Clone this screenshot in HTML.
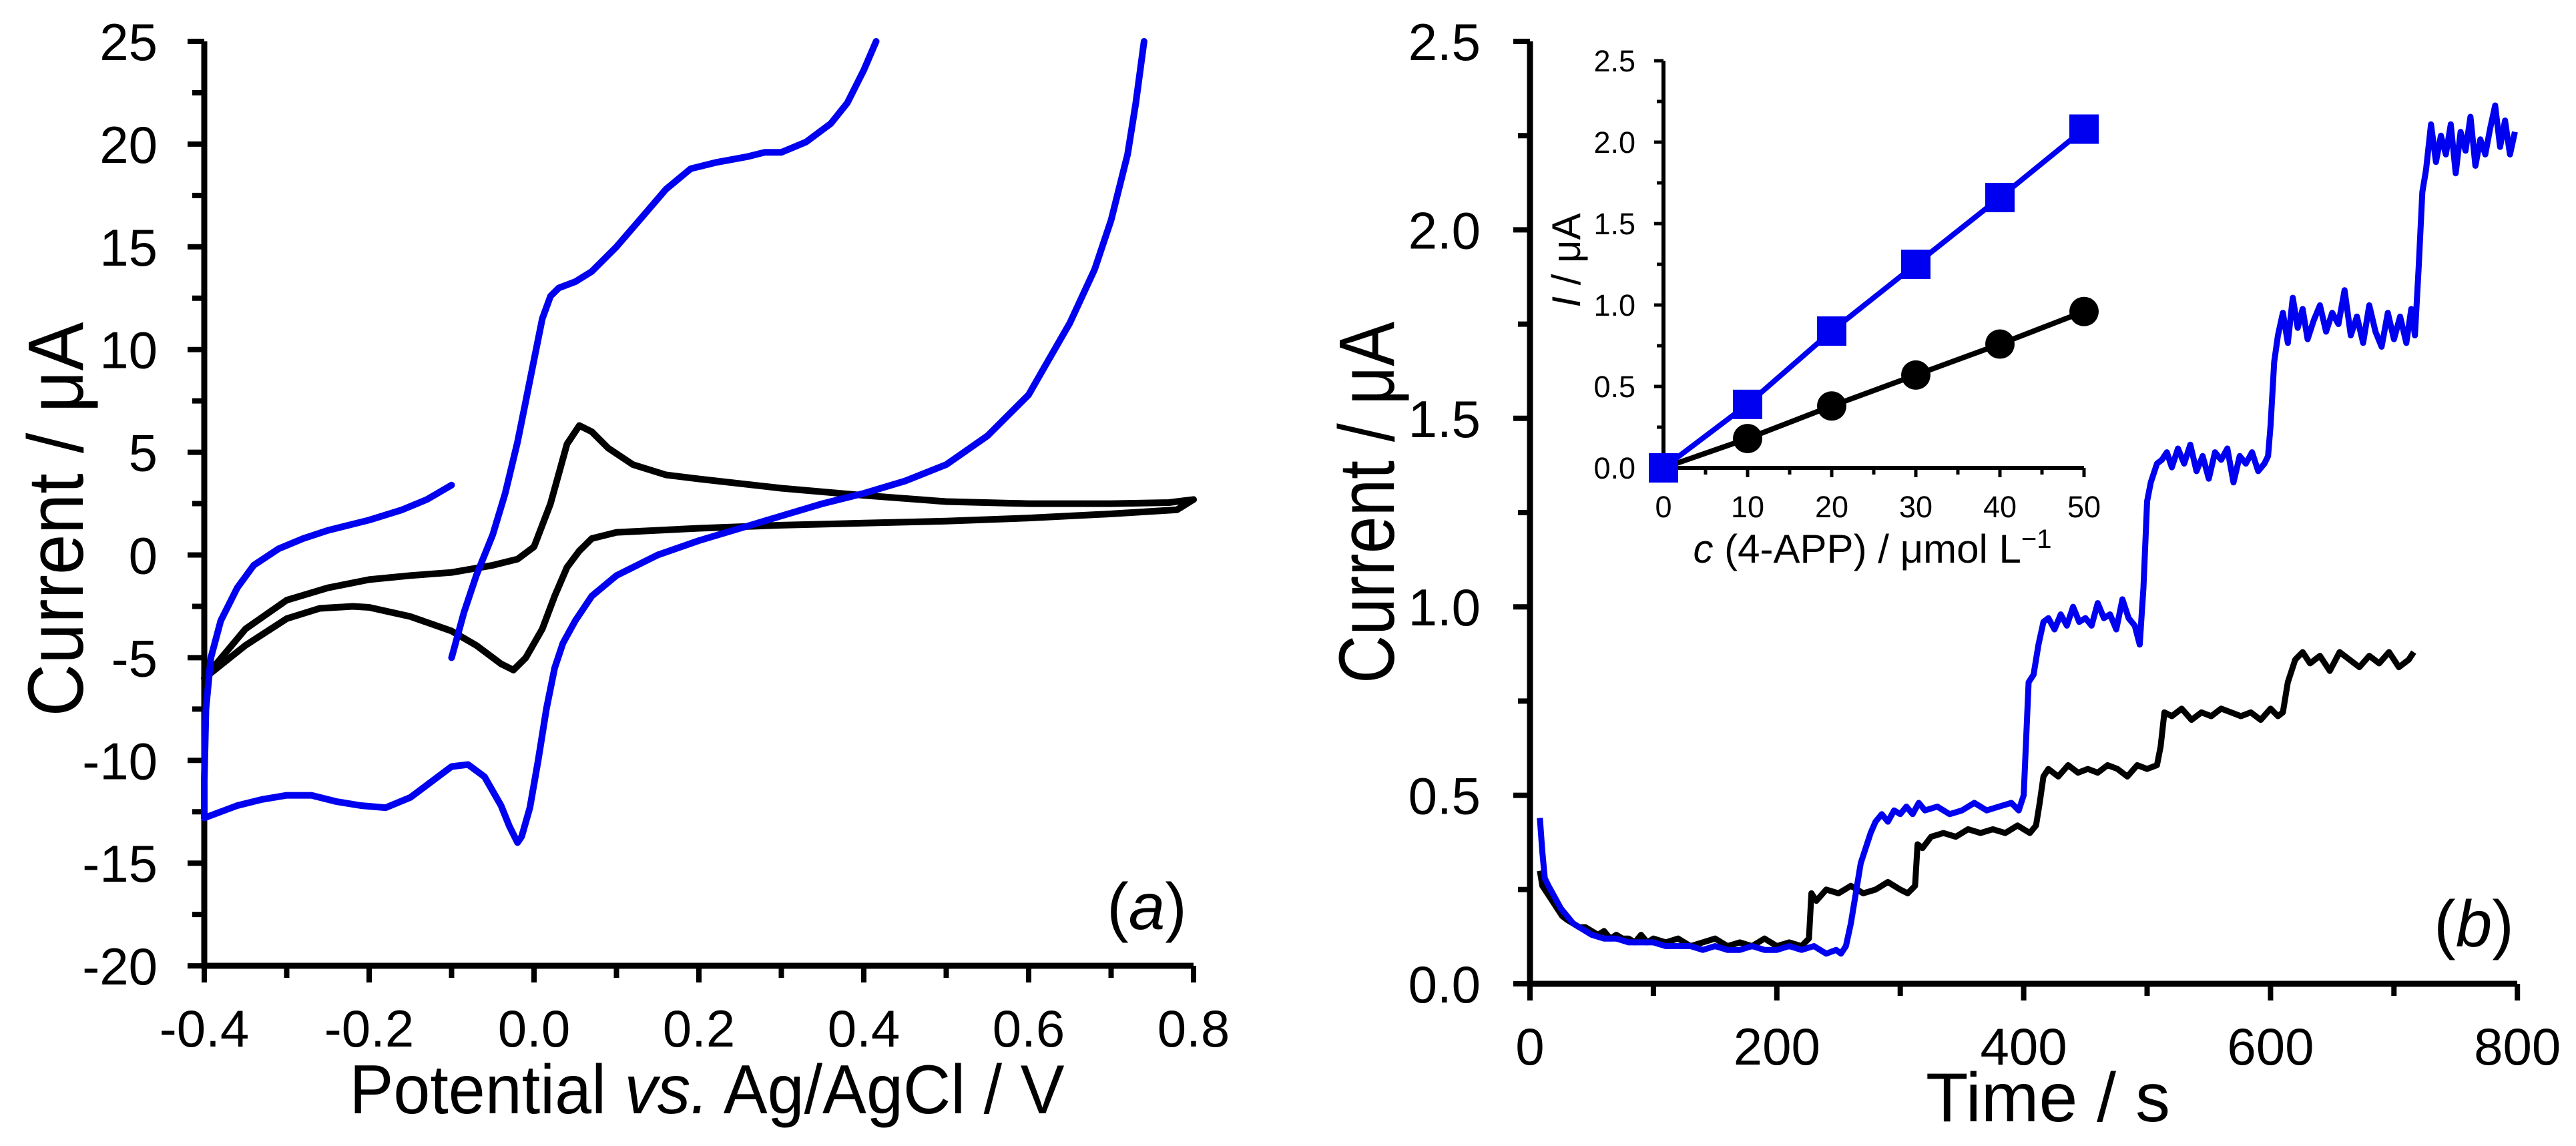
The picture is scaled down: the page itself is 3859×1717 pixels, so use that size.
<!DOCTYPE html>
<html><head><meta charset="utf-8"><style>
html,body{margin:0;padding:0;background:#fff;}
svg{display:block;}
text{font-family:"Liberation Sans",Arial,sans-serif;fill:#000;}
</style></head><body>
<svg id="fig" width="3859" height="1717" viewBox="0 0 3859 1717" xmlns="http://www.w3.org/2000/svg">
<g id="panelA"></g>
<g id="panelB"></g>
<g id="inset"></g>
</svg>
<script>
// ---- Panel (a) data: cyclic voltammograms ----
const cvBlackE = [-0.4,-0.35,-0.3,-0.25,-0.2,-0.15,-0.1,-0.05,-0.02,0.0,0.02,0.04,0.055,0.07,0.09,0.12,0.16,0.2,0.3,0.4,0.5,0.6,0.7,0.77,0.8,0.78,0.7,0.6,0.5,0.4,0.3,0.2,0.1,0.07,0.055,0.04,0.025,0.01,-0.01,-0.025,-0.04,-0.07,-0.1,-0.15,-0.2,-0.22,-0.26,-0.3,-0.35,-0.4];
const cvBlackI = [-6.0,-3.6,-2.2,-1.6,-1.2,-1.0,-0.85,-0.5,-0.2,0.4,2.5,5.4,6.3,6.0,5.2,4.4,3.9,3.7,3.25,2.9,2.6,2.5,2.5,2.55,2.7,2.2,2.0,1.8,1.65,1.55,1.45,1.3,1.1,0.8,0.2,-0.6,-2.0,-3.6,-5.0,-5.6,-5.3,-4.4,-3.7,-3.0,-2.55,-2.5,-2.6,-3.1,-4.4,-6.0];
const cvBlue1E = [-0.1,-0.085,-0.07,-0.05,-0.035,-0.02,-0.01,0.0,0.01,0.02,0.03,0.05,0.07,0.1,0.13,0.16,0.19,0.22,0.26,0.28,0.3,0.33,0.36,0.38,0.4,0.415];
const cvBlue1I = [-5.0,-2.8,-1.0,1.0,3.0,5.5,7.5,9.5,11.5,12.6,13.0,13.3,13.8,15.0,16.4,17.8,18.8,19.1,19.4,19.6,19.6,20.1,21.0,22.0,23.6,25.0];
const cvBlue2E = [0.74,0.73,0.72,0.7,0.68,0.65,0.62,0.6,0.55,0.5,0.45,0.4,0.35,0.3,0.25,0.2,0.15,0.1,0.07,0.05,0.035,0.025,0.015,0.005,-0.005,-0.015,-0.02,-0.03,-0.04,-0.06,-0.08,-0.1,-0.12,-0.15,-0.18,-0.21,-0.24,-0.27,-0.3,-0.33,-0.36,-0.4,-0.4,-0.398,-0.392,-0.38,-0.36,-0.34,-0.31,-0.28,-0.25,-0.2,-0.16,-0.13,-0.1];
const cvBlue2I = [25.0,22.0,19.5,16.3,13.9,11.3,9.2,7.8,5.8,4.4,3.6,3.0,2.5,1.9,1.3,0.7,0.0,-1.0,-2.0,-3.2,-4.3,-5.5,-7.5,-10.0,-12.3,-13.7,-14.0,-13.2,-12.2,-10.8,-10.2,-10.3,-10.9,-11.8,-12.3,-12.2,-12.0,-11.7,-11.7,-11.9,-12.2,-12.8,-11.0,-7.5,-5.0,-3.2,-1.6,-0.5,0.3,0.8,1.2,1.7,2.2,2.7,3.4];
const aYTicks = [25,20,15,10,5,0,-5,-10,-15,-20];
const aXTicks = ["-0.4","-0.2","0.0","0.2","0.4","0.6","0.8"];

// ---- Panel (b) data: amperometric current vs time ----
const ampBlackT = [8,10,14,18,22,26,30,35,40,45,50,55,60,65,70,75,80,85,90,95,100,110,120,130,140,150,160,170,180,190,200,210,220,226,228,232,240,250,260,270,280,290,300,306,312,314,318,325,335,345,355,365,375,385,395,405,410,413,416,420,428,436,444,452,460,468,476,484,492,500,508,511,514,520,528,536,544,552,560,568,576,584,592,600,606,610,614,620,626,632,640,648,656,664,672,680,688,696,704,712,716];
const ampBlackV = [0.30,0.26,0.24,0.22,0.20,0.18,0.17,0.16,0.15,0.15,0.14,0.13,0.14,0.12,0.13,0.12,0.12,0.11,0.13,0.11,0.12,0.11,0.12,0.10,0.11,0.12,0.10,0.11,0.10,0.12,0.10,0.11,0.10,0.12,0.24,0.22,0.25,0.24,0.26,0.24,0.25,0.27,0.25,0.24,0.26,0.37,0.36,0.39,0.40,0.39,0.41,0.40,0.41,0.40,0.42,0.40,0.42,0.48,0.55,0.57,0.55,0.58,0.56,0.57,0.56,0.58,0.57,0.55,0.58,0.57,0.58,0.63,0.72,0.71,0.73,0.70,0.72,0.71,0.73,0.72,0.71,0.72,0.70,0.73,0.71,0.72,0.80,0.86,0.88,0.85,0.87,0.83,0.88,0.86,0.84,0.87,0.85,0.88,0.84,0.86,0.88];
const ampBlueT = [8,10,12,15,20,25,30,35,40,45,50,60,70,80,90,100,110,120,130,140,150,160,170,180,190,200,210,220,230,240,248,252,256,260,264,268,272,276,280,285,290,295,300,305,310,315,320,330,340,350,360,370,380,390,396,400,402,404,408,412,416,420,425,430,435,440,445,450,455,460,465,470,475,480,485,490,494,497,500,503,508,512,516,520,525,530,535,540,545,550,555,560,565,570,575,580,585,590,595,598,600,603,606,610,614,618,622,626,630,635,640,645,650,655,660,665,670,675,680,685,690,695,700,705,710,714,717,720,723,726,730,734,738,742,746,750,754,758,762,766,770,774,778,782,786,790,794,798];
const ampBlueV = [0.44,0.35,0.28,0.26,0.23,0.20,0.18,0.16,0.15,0.14,0.13,0.12,0.12,0.11,0.11,0.11,0.10,0.10,0.10,0.09,0.10,0.09,0.09,0.10,0.09,0.09,0.10,0.09,0.10,0.08,0.09,0.08,0.10,0.16,0.24,0.32,0.36,0.40,0.43,0.45,0.43,0.46,0.45,0.47,0.45,0.48,0.46,0.47,0.45,0.46,0.48,0.46,0.47,0.48,0.46,0.50,0.65,0.80,0.82,0.90,0.96,0.97,0.94,0.98,0.95,1.00,0.96,0.97,0.95,1.01,0.97,0.98,0.94,1.02,0.97,0.95,0.90,1.05,1.28,1.33,1.38,1.39,1.41,1.37,1.42,1.38,1.43,1.36,1.40,1.34,1.41,1.39,1.42,1.33,1.40,1.38,1.41,1.36,1.38,1.40,1.48,1.65,1.72,1.78,1.70,1.82,1.74,1.79,1.71,1.76,1.80,1.73,1.78,1.75,1.84,1.72,1.77,1.70,1.80,1.73,1.69,1.78,1.71,1.77,1.70,1.79,1.72,1.90,2.10,2.16,2.28,2.18,2.25,2.20,2.28,2.15,2.26,2.21,2.30,2.17,2.24,2.20,2.27,2.33,2.22,2.29,2.20,2.26,2.24,2.28,2.21,2.24];
const bYTicks = ["0.0","0.5","1.0","1.5","2.0","2.5"];
const bXTicks = [0,200,400,600,800];

// ---- Inset data: calibration ----
const insetConc = [0,10,20,30,40,50];
const insetBlue = [0.0,0.39,0.84,1.25,1.66,2.08];
const insetBlack = [0.0,0.18,0.38,0.57,0.76,0.96];
const insetYTicks = ["0.0","0.5","1.0","1.5","2.0","2.5"];
const insetXTicks = [0,10,20,30,40,50];

const NS = "http://www.w3.org/2000/svg";
function mk(parent, tag, attrs, txt){
  const e = document.createElementNS(NS, tag);
  for (const k in attrs) e.setAttribute(k, attrs[k]);
  if (txt !== undefined) e.textContent = txt;
  parent.appendChild(e);
  return e;
}
const xA = v => 306 + (v + 0.4) * 1235;
const yA = i => 62 + (25 - i) * 30.78;
const xB = t => 2292 + t * 1.849;
const yB = v => 1474 - v * 564.8;
const xI = c => 2492 + c * 12.6;
const yI = v => 701 - v * 244;
function pathD(xs, ys, fx, fy){
  return xs.map((x,i)=>(i?"L":"M")+fx(x).toFixed(1)+","+fy(ys[i]).toFixed(1)).join(" ");
}

// ===== Panel A =====
const A = document.getElementById('panelA');
let ax = mk(A,'path',{d:`M306,62 L306,1447 L1788,1447`,fill:'none',stroke:'#000','stroke-width':9});


for (let v=-20; v<=25; v+=2.5){
  const major = Math.abs(v%5)<1e-6;
  const t = mk(A,'line',{x1:306-(major?25:18),x2:306,y1:yA(v),y2:yA(v),stroke:'#000','stroke-width':8});
  
  
}
aYTicks.forEach(v=>{
  const t = mk(A,'text',{x:236,y:yA(v)+28,'font-size':78,'text-anchor':'end'},String(v));
  
  
});
for (let k=0;k<=12;k++){
  const v=-0.4+k*0.1; const major=k%2===0;
  const t = mk(A,'line',{x1:xA(v),x2:xA(v),y1:1447,y2:1447+(major?25:18),stroke:'#000','stroke-width':8});
  
  
}
aXTicks.forEach(s=>{
  const t = mk(A,'text',{x:xA(parseFloat(s)),y:1568,'font-size':78,'text-anchor':'middle'},s);
  
  
});
let lb = mk(A,'path',{d:pathD(cvBlackE,cvBlackI,xA,yA),fill:'none',stroke:'#000','stroke-width':10,'stroke-linejoin':'round','stroke-linecap':'round'});


let lb1 = mk(A,'path',{d:pathD(cvBlue1E,cvBlue1I,xA,yA),fill:'none',stroke:'#0000f0','stroke-width':10,'stroke-linejoin':'round','stroke-linecap':'round'});


let lb2 = mk(A,'path',{d:pathD(cvBlue2E,cvBlue2I,xA,yA),fill:'none',stroke:'#0000f0','stroke-width':10,'stroke-linejoin':'round','stroke-linecap':'round'});


let yt = mk(A,'text',{transform:'translate(124,778) rotate(-90)','font-size':118,'text-anchor':'middle',textLength:591,lengthAdjust:'spacingAndGlyphs'},'Current / μA');


let xt = mk(A,'text',{x:1059,y:1668,'font-size':104,'text-anchor':'middle',textLength:1071,lengthAdjust:'spacingAndGlyphs'});
xt.innerHTML = 'Potential <tspan font-style="italic">vs.</tspan> Ag/AgCl / V';


let pa = mk(A,'text',{x:1718,y:1392,'font-size':98,'text-anchor':'middle'});
pa.innerHTML = '(<tspan font-style="italic">a</tspan>)';



// ===== Panel B =====
const B = document.getElementById('panelB');
let bx = mk(B,'path',{d:`M2292,62 L2292,1474 L3771,1474`,fill:'none',stroke:'#000','stroke-width':9});


for (let k=0;k<=10;k++){
  const v=k*0.25; const major=k%2===0;
  const t = mk(B,'line',{x1:2292-(major?25:18),x2:2292,y1:yB(v),y2:yB(v),stroke:'#000','stroke-width':8});
  
  
}
bYTicks.forEach(s=>{
  const t = mk(B,'text',{x:2218,y:yB(parseFloat(s))+28,'font-size':78,'text-anchor':'end'},s);
  
  
});
for (let k=0;k<=8;k++){
  const t = mk(B,'line',{x1:xB(k*100),x2:xB(k*100),y1:1474,y2:1474+(k%2===0?25:18),stroke:'#000','stroke-width':8});
  
  
}
bXTicks.forEach(v=>{
  const t = mk(B,'text',{x:xB(v),y:1595,'font-size':78,'text-anchor':'middle'},String(v));
  
  
});
let ab = mk(B,'path',{d:pathD(ampBlackT,ampBlackV,xB,yB),fill:'none',stroke:'#000','stroke-width':9,'stroke-linejoin':'round'});


let ab2 = mk(B,'path',{d:pathD(ampBlueT,ampBlueV,xB,yB),fill:'none',stroke:'#0000f0','stroke-width':9,'stroke-linejoin':'round'});


let byt = mk(B,'text',{transform:'translate(2088,753) rotate(-90)','font-size':118,'text-anchor':'middle',textLength:542,lengthAdjust:'spacingAndGlyphs'},'Current / μA');


let bxt = mk(B,'text',{x:3068,y:1680,'font-size':104,'text-anchor':'middle'},'Time / s');


let pb = mk(B,'text',{x:3706,y:1418,'font-size':98,'text-anchor':'middle'});
pb.innerHTML = '(<tspan font-style="italic">b</tspan>)';



// ===== Inset =====
const I = document.getElementById('inset');
let ix = mk(I,'path',{d:`M2492,91 L2492,701 L3122,701`,fill:'none',stroke:'#000','stroke-width':6});


for (let k=0;k<=10;k++){
  const v=k*0.25; const major=k%2===0;
  const t = mk(I,'line',{x1:2492-(major?14:10),x2:2492,y1:yI(v),y2:yI(v),stroke:'#000','stroke-width':5});
  
  
}
insetYTicks.forEach(s=>{
  const t = mk(I,'text',{x:2450,y:yI(parseFloat(s))+16,'font-size':45,'text-anchor':'end'},s);
  
  
});
for (let c=0;c<=50;c+=5){
  const t = mk(I,'line',{x1:xI(c),x2:xI(c),y1:701,y2:701+(c%10===0?14:10),stroke:'#000','stroke-width':5});
  
  
}
insetXTicks.forEach(c=>{
  const t = mk(I,'text',{x:xI(c),y:775,'font-size':45,'text-anchor':'middle'},String(c));
  
  
});
let il1 = mk(I,'path',{d:pathD(insetConc,insetBlack,xI,yI),fill:'none',stroke:'#000','stroke-width':8});


let il2 = mk(I,'path',{d:pathD(insetConc,insetBlue,xI,yI),fill:'none',stroke:'#0000f0','stroke-width':8});


insetConc.forEach((c,i)=>{
  const m = mk(I,'circle',{cx:xI(c),cy:yI(insetBlack[i]),r:22,fill:'#000'});
  
  
});
insetConc.forEach((c,i)=>{
  const m = mk(I,'rect',{x:xI(c)-22,y:yI(insetBlue[i])-22,width:44,height:44,fill:'#0000f0'});
  
  
});
let iyt = mk(I,'text',{transform:'translate(2367,390) rotate(-90)','font-size':60,'text-anchor':'middle'});
iyt.innerHTML = '<tspan font-style="italic">I</tspan> / μA';


let ixt = mk(I,'text',{x:2805,y:843,'font-size':60,'text-anchor':'middle'});
ixt.innerHTML = '<tspan font-style="italic">c</tspan> (4-APP) / μmol L<tspan baseline-shift="super" font-size="40">−1</tspan>';


</script>
</body></html>
